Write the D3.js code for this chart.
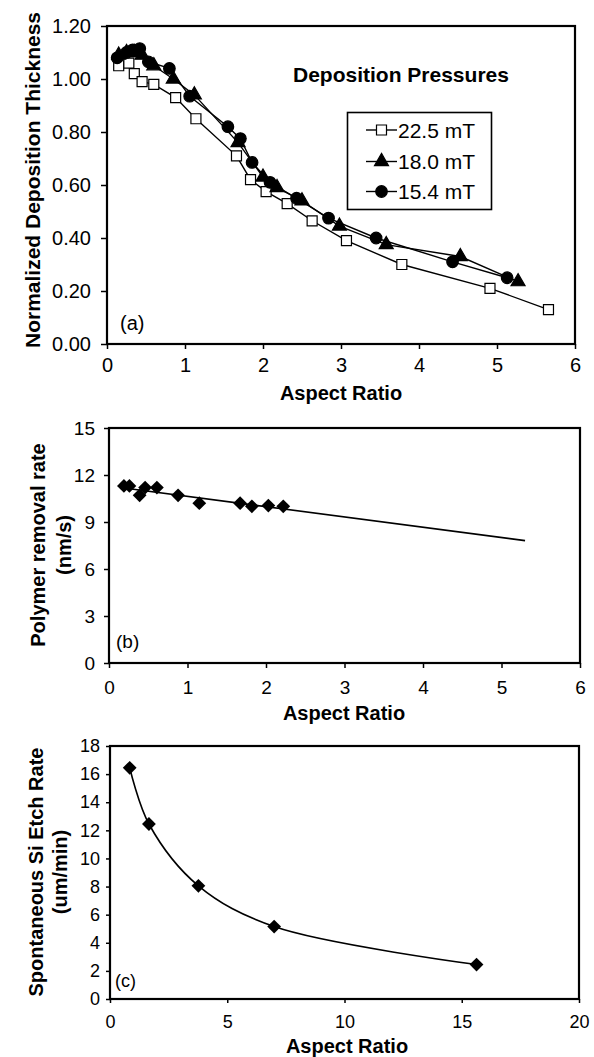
<!DOCTYPE html>
<html><head><meta charset="utf-8">
<script src="https://cdn.jsdelivr.net/npm/d3@7"></script>
<style>
html,body{margin:0;padding:0;background:#fff;}
svg{display:block;font-family:"Liberation Sans",Arial,sans-serif;}
</style></head>
<body>
<svg id="chart" width="594" height="1057"></svg>
<script>
// ---------- Panel (a) data ----------
const seriesNamesA = ["22.5 mT", "18.0 mT", "15.4 mT"];
const x225 = [0.15, 0.28, 0.35, 0.45, 0.60, 0.88, 1.14, 1.66, 1.84, 2.04, 2.31, 2.63, 3.07, 3.78, 4.91, 5.66];
const y225 = [1.05, 1.06, 1.02, 0.99, 0.98, 0.93, 0.85, 0.71, 0.62, 0.575, 0.53, 0.465, 0.39, 0.30, 0.21, 0.13];
const x180 = [0.15, 0.25, 0.35, 0.45, 0.60, 0.85, 1.12, 1.68, 2.00, 2.18, 2.50, 2.98, 3.58, 4.53, 5.27];
const y180 = [1.09, 1.10, 1.10, 1.09, 1.05, 1.00, 0.94, 0.76, 0.63, 0.59, 0.54, 0.445, 0.375, 0.33, 0.235];
const x154 = [0.13, 0.25, 0.33, 0.42, 0.53, 0.80, 1.06, 1.55, 1.71, 1.86, 2.09, 2.43, 2.84, 3.45, 4.43, 5.13];
const y154 = [1.08, 1.10, 1.11, 1.115, 1.065, 1.04, 0.935, 0.82, 0.775, 0.685, 0.61, 0.55, 0.475, 0.40, 0.31, 0.25];
const xTicksA = [0, 1, 2, 3, 4, 5, 6];
const yTicksA = [0, 0.2, 0.4, 0.6, 0.8, 1.0, 1.2];

// ---------- Panel (b) data ----------
const xB = [0.19, 0.26, 0.39, 0.46, 0.61, 0.88, 1.15, 1.67, 1.82, 2.03, 2.22];
const yB = [11.3, 11.3, 10.7, 11.2, 11.2, 10.7, 10.2, 10.2, 10.0, 10.05, 10.0];
const fitXB = [0.19, 5.3];
const fitYB = [11.17, 7.81];
const xTicksB = [0, 1, 2, 3, 4, 5, 6];
const yTicksB = [0, 3, 6, 9, 12, 15];

// ---------- Panel (c) data ----------
const xC = [0.84, 1.66, 3.77, 7.0, 15.63];
const yC = [16.45, 12.45, 8.05, 5.15, 2.45];
const xTicksC = [0, 5, 10, 15, 20];
const yTicksC = [0, 2, 4, 6, 8, 10, 12, 14, 16, 18];

const svg = d3.select("#chart");
const zip = (xs, ys) => xs.map((x, i) => ({x, y: ys[i]}));

function panel(o) {
  const x = d3.scaleLinear().domain(o.xd).range([o.l, o.r]);
  const y = d3.scaleLinear().domain(o.yd).range([o.b, o.t]);
  const g = svg.append("g");
  const ax = g.append("g").attr("transform", `translate(0,${o.b})`)
    .call(d3.axisBottom(x).tickValues(o.xt).tickFormat(o.xf || d3.format("d"))
      .tickSizeInner(o.tsx).tickSizeOuter(0).tickPadding(o.xpad));
  const ay = g.append("g").attr("transform", `translate(${o.l},0)`)
    .call(d3.axisLeft(y).tickValues(o.yt).tickFormat(o.yf || d3.format("d"))
      .tickSizeInner(o.tsy).tickSizeOuter(0).tickPadding(o.ypad));
  [ax, ay].forEach(a => {
    a.select(".domain").remove();
    a.selectAll("line").attr("stroke", "#000").attr("stroke-width", 1.5);
    a.selectAll("text").attr("font-size", o.fs).attr("fill", "#000")
      .attr("font-family", "Liberation Sans, Arial, sans-serif");
  });
  g.append("rect").attr("x", o.l).attr("y", o.t).attr("width", o.r - o.l).attr("height", o.b - o.t)
    .attr("fill", "none").attr("stroke", "#000").attr("stroke-width", 2.2);
  return {x, y, g};
}

function boldText(txt, x, y, fs, rotate) {
  const t = svg.append("text").text(txt).attr("font-size", fs).attr("font-weight", "bold")
    .attr("text-anchor", "middle").attr("fill", "#000");
  if (rotate) t.attr("transform", `translate(${x},${y}) rotate(-90)`);
  else t.attr("x", x).attr("y", y);
  return t;
}

// ================= Panel (a) =================
const A = panel({l: 107, r: 575, t: 26, b: 344, xd: [0, 6], yd: [0, 1.2],
  xt: xTicksA, yt: yTicksA, yf: d3.format(".2f"), tsx: 5, tsy: 6, xpad: 9, ypad: 10, fs: 20});
const lineA = d3.line().x(d => A.x(d.x)).y(d => A.y(d.y));
const dataA = [zip(x225, y225), zip(x180, y180), zip(x154, y154)];
const symA = [d3.symbolSquare, d3.symbolTriangle, d3.symbolCircle];
const sizeA = [100, 85, 105];
const fillA = ["#fff", "#000", "#000"];
dataA.forEach((d, i) => {
  A.g.append("path").datum(d).attr("d", lineA).attr("fill", "none")
    .attr("stroke", "#000").attr("stroke-width", 1.4);
});
[0, 1, 2].forEach(i => {
  A.g.selectAll(null).data(dataA[i]).join("path")
    .attr("transform", d => `translate(${A.x(d.x)},${A.y(d.y)})`)
    .attr("d", d3.symbol().type(symA[i]).size(sizeA[i]))
    .attr("fill", fillA[i]).attr("stroke", "#000").attr("stroke-width", 1.2);
});
// legend
svg.append("text").text("Deposition Pressures").attr("x", 293).attr("y", 82)
  .attr("font-size", 21).attr("font-weight", "bold");
svg.append("rect").attr("x", 347.5).attr("y", 112.5).attr("width", 144).attr("height", 97)
  .attr("fill", "#fff").attr("stroke", "#000").attr("stroke-width", 1.6);
const legY = [130, 161.5, 191.5];
seriesNamesA.forEach((n, i) => {
  const lg = svg.append("g").attr("transform", `translate(0,${legY[i]})`);
  lg.append("line").attr("x1", 366).attr("x2", 397).attr("stroke", "#000").attr("stroke-width", 1.4);
  lg.append("path").attr("transform", "translate(381.5,0)")
    .attr("d", d3.symbol().type(symA[i]).size(sizeA[i]))
    .attr("fill", fillA[i]).attr("stroke", "#000").attr("stroke-width", 1.2);
  lg.append("text").text(n).attr("x", 398).attr("y", 7.5).attr("font-size", 21);
});
svg.append("text").text("(a)").attr("x", 120).attr("y", 330).attr("font-size", 20);
boldText("Aspect Ratio", 341, 400, 20);
boldText("Normalized Deposition Thickness", 40, 180, 21, true);

// ================= Panel (b) =================
const B = panel({l: 109, r: 580, t: 428, b: 663, xd: [0, 6], yd: [0, 15],
  xt: xTicksB, yt: yTicksB, tsx: 5, tsy: 5, xpad: 13, ypad: 9, fs: 19});
B.g.append("path").datum(zip(fitXB, fitYB))
  .attr("d", d3.line().x(d => B.x(d.x)).y(d => B.y(d.y)))
  .attr("fill", "none").attr("stroke", "#000").attr("stroke-width", 1.6);
B.g.selectAll(null).data(zip(xB, yB)).join("path")
  .attr("transform", d => `translate(${B.x(d.x)},${B.y(d.y)}) rotate(45)`)
  .attr("d", d3.symbol().type(d3.symbolSquare).size(95)).attr("fill", "#000");
svg.append("text").text("(b)").attr("x", 116).attr("y", 648).attr("font-size", 19);
boldText("Aspect Ratio", 344, 720, 20);
boldText("Polymer removal rate", 45, 545, 20, true);
boldText("(nm/s)", 71, 545, 20, true);

// ================= Panel (c) =================
const C = panel({l: 110, r: 579, t: 746, b: 999, xd: [0, 20], yd: [0, 18],
  xt: xTicksC, yt: yTicksC, tsx: 4, tsy: 4, xpad: 12, ypad: 6, fs: 18});
C.g.append("path").datum(zip(xC, yC))
  .attr("d", d3.line().curve(d3.curveCatmullRom.alpha(0.5)).x(d => C.x(d.x)).y(d => C.y(d.y)))
  .attr("fill", "none").attr("stroke", "#000").attr("stroke-width", 1.6);
C.g.selectAll(null).data(zip(xC, yC)).join("path")
  .attr("transform", d => `translate(${C.x(d.x)},${C.y(d.y)}) rotate(45)`)
  .attr("d", d3.symbol().type(d3.symbolSquare).size(95)).attr("fill", "#000");
svg.append("text").text("(c)").attr("x", 115).attr("y", 987).attr("font-size", 18);
boldText("Aspect Ratio", 347, 1053, 20);
boldText("Spontaneous Si Etch Rate", 43, 872, 20, true);
boldText("(um/min)", 67, 872, 20, true);
</script>
</body></html>
